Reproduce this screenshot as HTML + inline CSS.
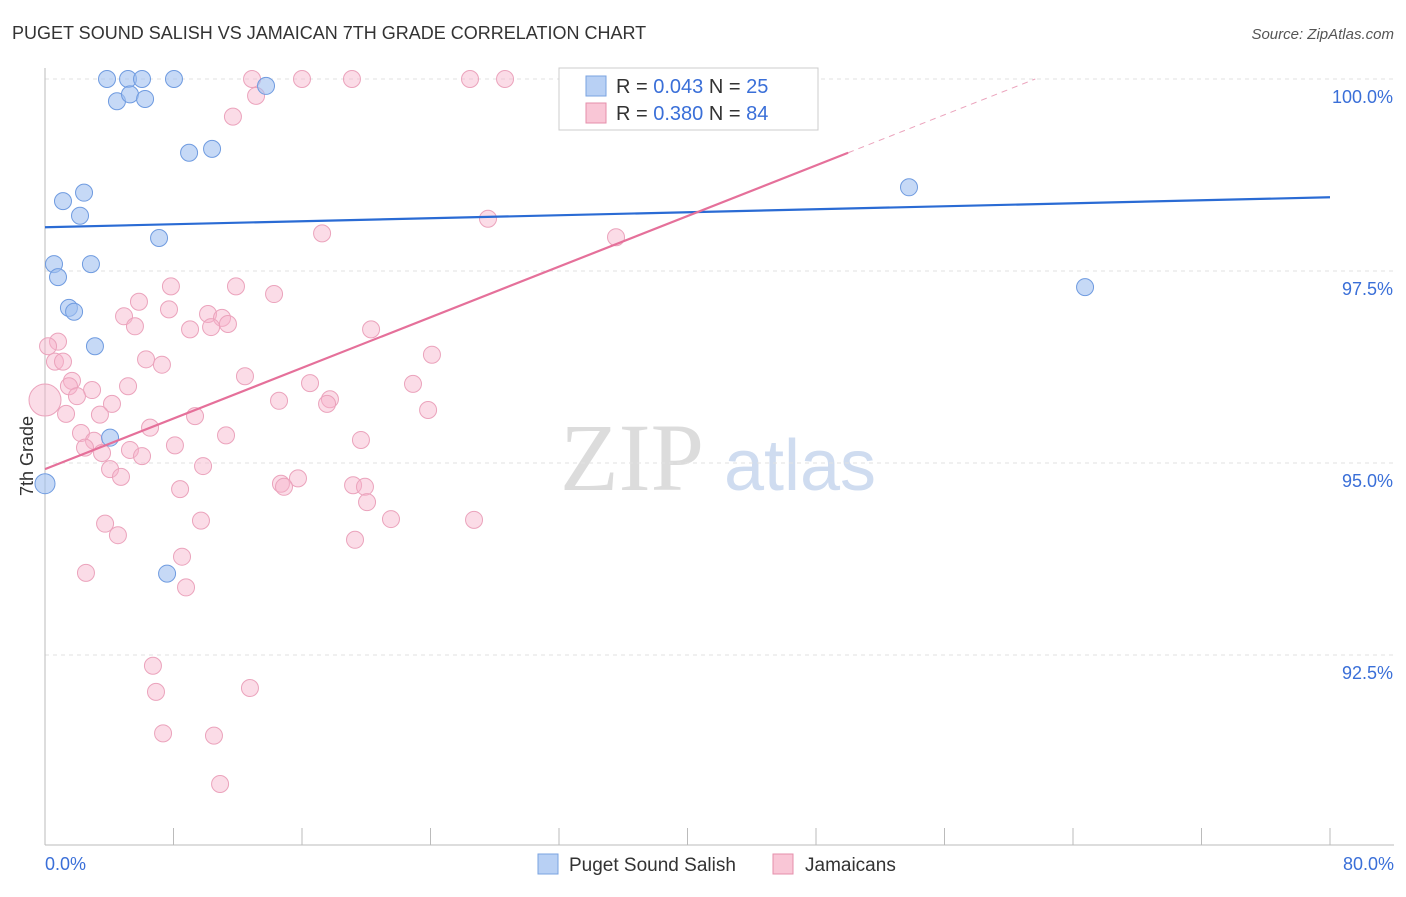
<!DOCTYPE html>
<html><head><meta charset="utf-8"><style>
body{margin:0;background:#fff;font-family:"Liberation Sans",sans-serif;}
</style></head><body>
<svg id="chart" width="1406" height="892" xmlns="http://www.w3.org/2000/svg" font-family="Liberation Sans, sans-serif">
<text x="12" y="39" font-size="18" fill="#333">PUGET SOUND SALISH VS JAMAICAN 7TH GRADE CORRELATION CHART</text>
<text x="1394" y="39" font-size="15" fill="#555" text-anchor="end" font-style="italic">Source: ZipAtlas.com</text>
<g>
<text x="632" y="490" font-size="96" font-family="Liberation Serif, serif" fill="#dcdcdc" text-anchor="middle">ZIP</text>
<text x="800" y="490" font-size="72" fill="#cfdcf0" text-anchor="middle">atlas</text>
</g>
<g id="grid"></g>
<g id="axes"></g>
<g id="marks"></g>
<text transform="translate(33,456) rotate(-90)" font-size="18" fill="#333" text-anchor="middle">7th Grade</text>
<g>
<rect x="559" y="68" width="259" height="62" fill="#fff" stroke="#ccc"/>
<rect x="586" y="76" width="20" height="20" fill="#b8d0f4" stroke="#7aa3e0"/>
<rect x="586" y="103" width="20" height="20" fill="#f9c6d6" stroke="#e58fab"/>
<text x="616" y="93" font-size="20" fill="#333">R = <tspan fill="#3a6fd8">0.043</tspan>   N = <tspan fill="#3a6fd8">25</tspan></text>
<text x="616" y="120" font-size="20" fill="#333">R = <tspan fill="#3a6fd8">0.380</tspan>   N = <tspan fill="#3a6fd8">84</tspan></text>
</g>
<g>
<rect x="538" y="854" width="20" height="20" fill="#b8d0f4" stroke="#7aa3e0"/>
<text x="569" y="871" font-size="19" fill="#333">Puget Sound Salish</text>
<rect x="773" y="854" width="20" height="20" fill="#f9c6d6" stroke="#e58fab"/>
<text x="805" y="871" font-size="19" fill="#333">Jamaicans</text>
</g>
</svg>
<script>
const blueX=[3.86,5.17,6.04,8.03,4.48,5.29,6.23,8.97,10.40,13.76,1.12,2.43,2.18,7.10,0.56,2.86,0.81,1.49,1.81,3.11,4.05,7.60,0,53.79,64.75];
const blueY=[100,100,100,100,99.71,99.80,99.74,99.04,99.09,99.91,98.41,98.52,98.22,97.93,97.59,97.59,97.42,97.02,96.97,96.52,95.33,93.56,94.73,98.59,97.29];
const pinkX=[12.89,16.00,19.11,26.46,28.64,42.65,45.33,13.14,11.70,27.58,17.25,35.55,7.84,11.89,14.26,5.85,7.72,4.92,10.15,11.02,5.60,9.03,10.34,11.39,20.30,0.81,0.19,0.62,1.12,6.29,7.28,24.09,12.45,16.50,22.91,1.68,1.49,5.17,2.93,1.99,4.17,14.57,17.74,17.56,23.85,1.31,3.42,9.34,6.54,2.24,11.27,3.05,19.67,2.49,8.09,5.29,3.55,6.04,9.84,4.05,4.73,15.75,14.69,14.88,19.18,19.92,8.41,20.05,21.54,26.71,9.71,3.74,4.54,19.30,8.53,2.55,8.78,6.72,12.76,6.91,7.35,10.52,10.90,0];
const pinkY=[100,100,100,100,100,100,100,99.78,99.51,98.18,97.99,97.94,97.30,97.30,97.20,97.10,97.00,96.91,96.94,96.89,96.78,96.74,96.77,96.81,96.74,96.58,96.52,96.32,96.32,96.35,96.28,96.41,96.13,96.04,96.03,96.07,96.00,96.00,95.95,95.87,95.77,95.81,95.83,95.77,95.69,95.64,95.63,95.61,95.46,95.39,95.36,95.29,95.30,95.20,95.23,95.17,95.13,95.09,94.96,94.92,94.82,94.80,94.73,94.69,94.71,94.69,94.66,94.49,94.27,94.26,94.25,94.21,94.06,94.00,93.78,93.57,93.38,92.36,92.07,92.02,91.48,91.45,90.82,95.82];
const yTicks=[100,97.5,95,92.5];
const yTickLabels=["100.0%","97.5%","95.0%","92.5%"];
const xTicks=[0,8,16,24,32,40,48,56,64,72,80];
const blueTrend=[98.07,98.46];
const pinkTrend=[94.92,0.0824];

const NS="http://www.w3.org/2000/svg";
const xs=v=>45+v*(1285/80);
const ys=v=>79+(100-v)*(192/2.5);
function mk(tag,attrs,parent){const e=document.createElementNS(NS,tag);for(const k in attrs)e.setAttribute(k,attrs[k]);document.getElementById(parent).appendChild(e);return e;}
yTicks.forEach((t,i)=>{
 const l=mk('line',{x1:45,x2:1394,y1:ys(t),y2:ys(t),stroke:'#e2e2e2','stroke-dasharray':'4,4'},'grid');
 
 
 const tx=mk('text',{x:1393,y:ys(t)+24,'font-size':18,fill:'#3a6fd8','text-anchor':'end'},'grid');
 tx.textContent=yTickLabels[i];
 
 
});
let a=mk('line',{x1:45,x2:45,y1:68,y2:845,stroke:'#bbb'},'axes');


a=mk('line',{x1:45,x2:1394,y1:845,y2:845,stroke:'#bbb'},'axes');


xTicks.forEach(t=>{const l=mk('line',{x1:xs(t),x2:xs(t),y1:828,y2:845,stroke:'#bbb'},'axes');
 
 });
let t0=mk('text',{x:45,y:870,'font-size':18,fill:'#3a6fd8'},'axes');t0.textContent='0.0%';


let t1=mk('text',{x:1394,y:870,'font-size':18,fill:'#3a6fd8','text-anchor':'end'},'axes');t1.textContent='80.0%';



pinkX.forEach((x,i)=>{const r=(i===pinkX.length-1)?16:8.5;
 const c=mk('circle',{cx:xs(x),cy:ys(pinkY[i]),r:r,fill:'rgba(246,178,201,0.45)',stroke:'#eba3bc','stroke-width':1},'marks');
 
 });
blueX.forEach((x,i)=>{const r=(x===0)?10:8.5;
 const c=mk('circle',{cx:xs(x),cy:ys(blueY[i]),r:r,fill:'rgba(160,192,240,0.6)',stroke:'#6f9be0','stroke-width':1},'marks');
 
 });
let bl=mk('line',{x1:xs(0),x2:xs(80),y1:ys(blueTrend[0]),y2:ys(blueTrend[1]),stroke:'#2a6bd4','stroke-width':2.2},'marks');


const pe=50,pz=(100-pinkTrend[0])/pinkTrend[1];
let pl=mk('line',{x1:xs(0),x2:xs(pe),y1:ys(pinkTrend[0]),y2:ys(pinkTrend[0]+pinkTrend[1]*pe),stroke:'#e5709a','stroke-width':2.2},'marks');


let pd=mk('line',{x1:xs(pe),x2:xs(pz),y1:ys(pinkTrend[0]+pinkTrend[1]*pe),y2:ys(100),stroke:'#eba3bc','stroke-width':1,'stroke-dasharray':'6,5'},'marks');


</script>
</body></html>
